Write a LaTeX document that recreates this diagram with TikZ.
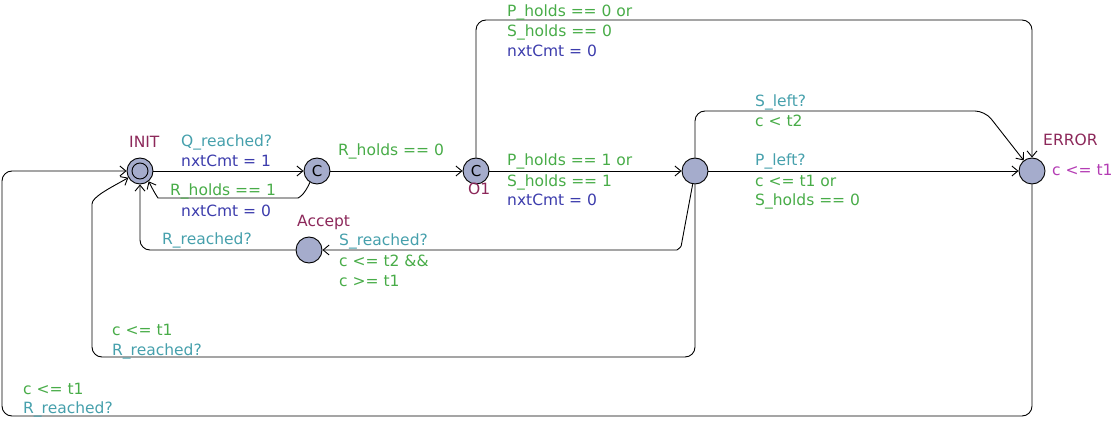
\documentclass[tikz,border=0pt]{standalone}
\usepackage{fontspec}
\setmainfont{DejaVu Sans}
\usetikzlibrary{arrows.meta}
\definecolor{csync}{RGB}{70,160,172}
\definecolor{cguard}{RGB}{72,172,72}
\definecolor{cassign}{RGB}{60,60,172}
\definecolor{cname}{RGB}{140,40,90}
\definecolor{cinv}{RGB}{180,60,180}
\definecolor{locfill}{RGB}{165,172,204}
\begin{document}
\begin{tikzpicture}[x=1pt,y=-1pt,
  loc/.style={circle,draw,fill=locfill,minimum size=26pt,inner sep=0pt,line width=0.9pt,font=\fontsize{15}{18}\selectfont},
  edge/.style={line width=0.9pt,-{Straight Barb[length=6pt,width=10pt]},rounded corners=10pt},
  lbl/.style={anchor=base west,inner sep=0pt,font=\fontsize{15.5}{20}\selectfont},
  sync/.style={lbl,text=csync},
  guard/.style={lbl,text=cguard},
  assign/.style={lbl,text=cassign},
  lname/.style={lbl,text=cname},
  inv/.style={lbl,text=cinv}]
\useasboundingbox (0,0) rectangle (1113,422);
% locations
\node[loc] (INIT) at (140,171) {};
\draw[line width=0.9pt] (INIT.center) circle[radius=8pt];
\node[loc] (C1) at (317,171) {C};
\node[loc] (O1) at (476,171) {C};
\node[loc] (N4) at (695,171) {};
\node[loc] (ERR) at (1032,171) {};
\node[loc] (ACC) at (309,250) {};
% location labels
\node[lname] (tINIT) at (129,148) {INIT};
\node[lname] (tO1) at (468,195) {O1};
\node[lname] (tACC) at (297,226) {Accept};
\node[lname] (tERR) at (1043,146) {ERROR};
\node[inv] (iERR) at (1052,176) {c <= t1};
% edges
\draw[edge] (INIT) -- (C1);
\draw[edge] (C1.-122) .. controls (304,196) and (298,198) .. (288,198) -- (168,198) .. controls (158,198) and (155,194) .. (INIT.-50);
\draw[edge] (C1) -- (O1);
\draw[edge] (O1) -- (N4);
\draw[edge] (O1.north) -- (476,20) -- (1032,20) -- (ERR.north);
\draw[edge] (N4.north) -- (695,111) -- (985,111) -- (ERR);
\draw[edge] (N4) -- (ERR);
\draw[edge] (N4.-100) -- (683,236) .. controls (681,247) and (677,250) .. (667,250) -- (ACC.east);
\draw[edge] (ACC.west) -- (140,250) -- (INIT.south);
\draw[edge] (N4.south) -- (695,357) -- (92,357) -- (92,214) [sharp corners] .. controls (92,197) and (110,188) .. (INIT.-150);
\draw[edge] (ERR.south) -- (1032,416) -- (2,416) -- (2,171) -- (INIT.west);
% edge labels
\node[sync] (l1a) at (181,147) {Q\_reached?};
\node[assign] (l1b) at (181,167) {nxtCmt = 1};
\node[guard] (l2a) at (170,196) {R\_holds == 1};
\node[assign] (l2b) at (181,216) {nxtCmt = 0};
\node[guard] (l3a) at (338,156) {R\_holds == 0};
\node[guard] (l4a) at (507,166) {P\_holds == 1 or};
\node[guard] (l4b) at (507,186) {S\_holds == 1};
\node[assign] (l4c) at (507,206) {nxtCmt = 0};
\node[guard] (l5a) at (507,17) {P\_holds == 0 or};
\node[guard] (l5b) at (507,37) {S\_holds == 0};
\node[assign] (l5c) at (507,57) {nxtCmt = 0};
\node[sync] (l6a) at (755,107) {S\_left?};
\node[guard] (l6b) at (755,127) {c < t2};
\node[sync] (l7a) at (755,166) {P\_left?};
\node[guard] (l7b) at (755,186) {c <= t1 or};
\node[guard] (l7c) at (755,205) {S\_holds == 0};
\node[sync] (l8a) at (339,245) {S\_reached?};
\node[guard] (l8b) at (339,266) {c <= t2 \&\&};
\node[guard] (l8c) at (339,286) {c >= t1};
\node[sync] (l9a) at (162,244) {R\_reached?};
\node[guard] (l10a) at (112,335) {c <= t1};
\node[sync] (l10b) at (112,355) {R\_reached?};
\node[guard] (l11a) at (23,394) {c <= t1};
\node[sync] (l11b) at (23,413) {R\_reached?};
\end{tikzpicture}
\end{document}
